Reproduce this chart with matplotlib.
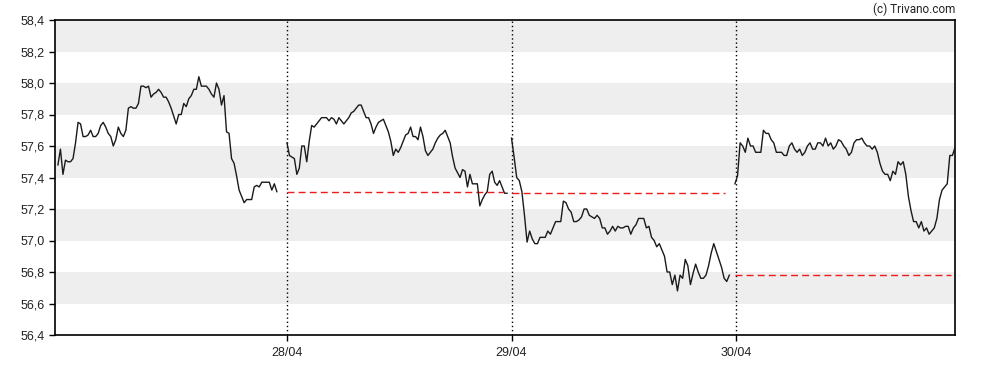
import matplotlib.pyplot as plt
from matplotlib.ticker import FuncFormatter
import numpy as np

# intraday quotes, one list per session
day1 = [57.48, 57.58, 57.42, 57.51, 57.50, 57.50, 57.52, 57.62, 57.75, 57.74,
        57.66, 57.66, 57.67, 57.70, 57.66, 57.66, 57.68, 57.73, 57.75, 57.72,
        57.68, 57.66, 57.60, 57.64, 57.72, 57.68, 57.66, 57.70, 57.84, 57.85,
        57.84, 57.84, 57.87, 57.98, 57.98, 57.97, 57.98, 57.91, 57.93, 57.94,
        57.96, 57.94, 57.91, 57.91, 57.88, 57.84, 57.79, 57.74, 57.80, 57.80,
        57.87, 57.85, 57.90, 57.92, 57.96, 57.96, 58.04, 57.98, 57.98, 57.98,
        57.96, 57.93, 57.91, 58.00, 57.96, 57.86, 57.92, 57.69, 57.68, 57.52,
        57.49, 57.41, 57.32, 57.28, 57.24, 57.26, 57.26, 57.26, 57.34, 57.35,
        57.34, 57.37, 57.37, 57.37, 57.37, 57.32, 57.36, 57.31]
day2 = [57.62, 57.54, 57.53, 57.52, 57.42, 57.46, 57.60, 57.60, 57.50, 57.63,
        57.73, 57.72, 57.74, 57.76, 57.78, 57.78, 57.78, 57.76, 57.78, 57.77,
        57.74, 57.78, 57.76, 57.74, 57.76, 57.78, 57.81, 57.82, 57.84, 57.86,
        57.86, 57.82, 57.78, 57.78, 57.74, 57.68, 57.72, 57.75, 57.76, 57.77,
        57.73, 57.69, 57.63, 57.54, 57.58, 57.56, 57.59, 57.63, 57.67, 57.68,
        57.72, 57.66, 57.66, 57.64, 57.72, 57.66, 57.57, 57.54, 57.56, 57.58,
        57.62, 57.65, 57.67, 57.68, 57.70, 57.66, 57.62, 57.53, 57.46, 57.43,
        57.40, 57.45, 57.44, 57.34, 57.42, 57.36, 57.36, 57.36, 57.22, 57.26,
        57.29, 57.31, 57.42, 57.44, 57.37, 57.35, 57.38, 57.34, 57.30, 57.30]
day3 = [57.65, 57.53, 57.40, 57.38, 57.31, 57.16, 56.99, 57.06, 57.01, 56.98,
        56.98, 57.02, 57.02, 57.02, 57.06, 57.04, 57.08, 57.12, 57.12, 57.12,
        57.25, 57.24, 57.20, 57.18, 57.12, 57.12, 57.13, 57.15, 57.20, 57.20,
        57.16, 57.15, 57.14, 57.16, 57.14, 57.08, 57.08, 57.04, 57.06, 57.09,
        57.06, 57.09, 57.08, 57.08, 57.09, 57.09, 57.04, 57.08, 57.10, 57.14,
        57.14, 57.14, 57.08, 57.09, 57.02, 57.00, 56.96, 56.98, 56.94, 56.90,
        56.80, 56.80, 56.72, 56.78, 56.68, 56.78, 56.76, 56.88, 56.84, 56.72,
        56.79, 56.85, 56.80, 56.76, 56.76, 56.78, 56.84, 56.92, 56.98, 56.93,
        56.88, 56.83, 56.76, 56.74, 56.78]
day4 = [57.36, 57.41, 57.62, 57.60, 57.56, 57.65, 57.60, 57.60, 57.56, 57.56,
        57.56, 57.70, 57.68, 57.68, 57.64, 57.62, 57.56, 57.56, 57.56, 57.54,
        57.54, 57.60, 57.62, 57.58, 57.56, 57.58, 57.54, 57.56, 57.60, 57.62,
        57.58, 57.58, 57.62, 57.62, 57.60, 57.65, 57.60, 57.62, 57.58, 57.60,
        57.64, 57.63, 57.60, 57.58, 57.54, 57.56, 57.62, 57.64, 57.64, 57.65,
        57.62, 57.60, 57.60, 57.58, 57.60, 57.56, 57.49, 57.44, 57.42, 57.42,
        57.38, 57.44, 57.42, 57.50, 57.48, 57.50, 57.42, 57.28, 57.19, 57.12,
        57.12, 57.08, 57.12, 57.06, 57.08, 57.04, 57.06, 57.08, 57.14, 57.26,
        57.32, 57.34, 57.36, 57.54, 57.54, 57.59]
days = [day1, day2, day3, day4]
day_labels = ["28/04", "29/04", "30/04"]

# session span of each day in x units (1 unit = 1 day)
spans = [(-0.02, 0.975), (1.0, 0.98), (2.0, 0.97), (2.995, 0.98)]

fig = plt.figure(figsize=(9.88, 3.7), dpi=100)
ax = fig.add_axes([55 / 988, 1 - 335 / 370, 900 / 988, 315 / 370])

for lo in np.arange(56.6, 58.4, 0.4):
    ax.axhspan(lo, lo + 0.2, color="#eeeeee", lw=0, zorder=0)

for k in range(1, 4):
    ax.axvline(k, color="black", lw=1, ls=(0, (1, 2)), zorder=1)

for i, vals in enumerate(days):
    start, width = spans[i]
    x = np.linspace(start, start + width, len(vals))
    ax.plot(x, vals, color="#1a1a1a", lw=1, zorder=3)
    if i > 0:
        prev = days[i - 1][-1]
        ax.plot([start, start + width - 0.02], [prev, prev], color="#ee1c1c",
                lw=1, ls=(0, (5, 3)), zorder=2)

ax.set_xlim(-0.033, 3.975)
ax.set_ylim(56.4, 58.4)
ax.set_yticks(np.arange(56.4, 58.41, 0.2))
ax.yaxis.set_major_formatter(FuncFormatter(lambda v, p: f"{v:.1f}".replace(".", ",")))
ax.set_xticks([1, 2, 3])
ax.set_xticklabels(day_labels)
ax.tick_params(direction="out", length=4, width=1, labelsize=9,
               labelcolor="#222222", labelfontfamily="Liberation Sans")
ax.tick_params(axis="x", pad=5)
for s in ax.spines.values():
    s.set_linewidth(1.2)

fig.text(955 / 988, 1 - 9 / 370, "(c) Trivano.com", ha="right", va="center",
         fontsize=8.5, family="Roboto", color="#222222")

fig.savefig("out.png", dpi=100)
